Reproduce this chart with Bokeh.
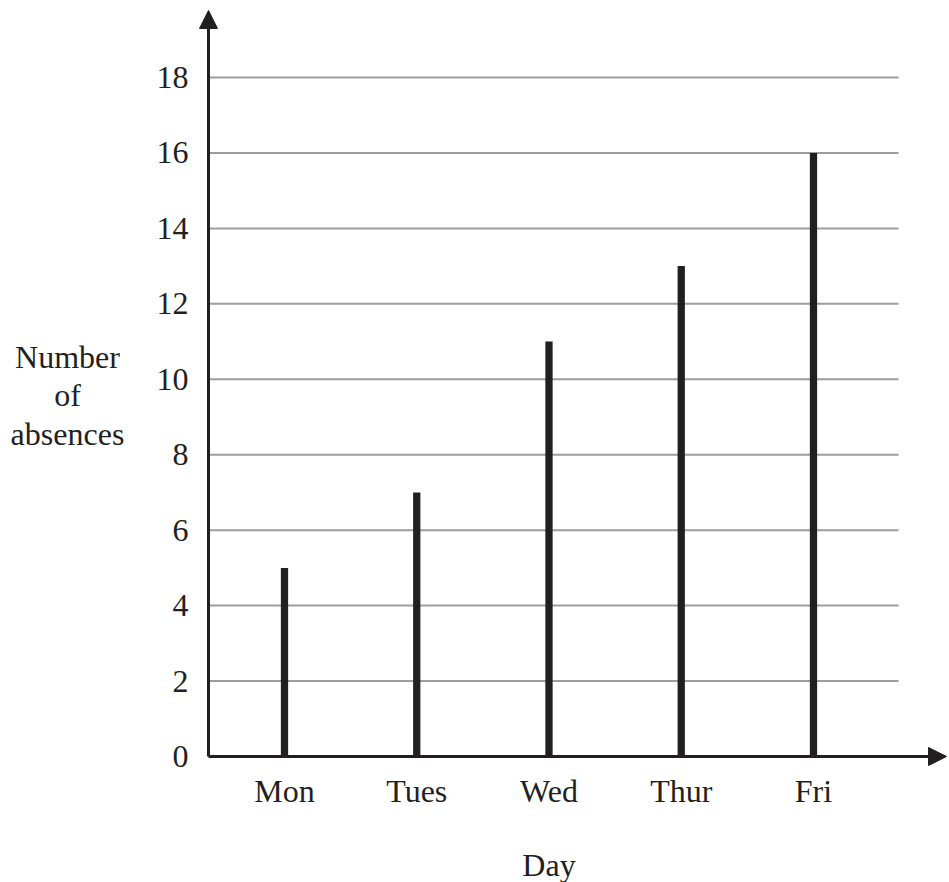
from bokeh.plotting import figure
from bokeh.models import Arrow, NormalHead, FixedTicker, Range1d, Label
from bokeh.embed import file_html
from bokeh.resources import INLINE

# ---- data ----
days = ["Mon", "Tues", "Wed", "Thur", "Fri"]
absences = [5, 7, 11, 13, 16]
y_ticks = [0, 2, 4, 6, 8, 10, 12, 14, 16, 18]
x_title = "Day"
y_title = "Number\nof\nabsences"

# ---- layout constants ----
INK = "#231f20"
FONT = "Liberation Serif"
FS = "32px"
xs = list(range(1, len(days) + 1))

X0, X1 = -1.1474, 6.0284     # frame x range (frame fills the canvas)
Y0, Y1 = -3.340, 20.041      # frame y range
AXIS_X = 0.4253              # where the vertical axis sits
GRID_END = 5.643
X_TIP = 6.006
Y_TIP = 19.777

p = figure(width=949, height=882, output_backend="svg", toolbar_location=None,
           x_range=Range1d(X0, X1), y_range=Range1d(Y0, Y1),
           min_border_left=0, min_border_right=0, min_border_top=0,
           min_border_bottom=0)
p.outline_line_color = None
p.grid.visible = False
p.background_fill_color = "white"

# gridlines (horizontal) for non-zero ticks
grid_y = [t for t in y_ticks if t > 0]
p.segment(x0=[AXIS_X] * len(grid_y), x1=[GRID_END] * len(grid_y),
          y0=grid_y, y1=grid_y, line_color="#9d9d9d", line_width=2)

# bars
p.vbar(x=xs, top=absences, bottom=0, width=0.055, fill_color=INK, line_color=None)

# axes arrows
p.add_layout(Arrow(end=NormalHead(size=18, fill_color=INK, line_color=INK),
                   x_start=AXIS_X, y_start=0, x_end=AXIS_X, y_end=Y_TIP,
                   line_width=3, line_color=INK))
p.add_layout(Arrow(end=NormalHead(size=18, fill_color=INK, line_color=INK),
                   x_start=AXIS_X, y_start=0, x_end=X_TIP, y_end=0,
                   line_width=3, line_color=INK))

# axes (labels only), fixed inside the frame
for ax in (p.xaxis[0], p.yaxis[0]):
    ax.axis_line_color = None
    ax.major_tick_line_color = None
    ax.minor_tick_line_color = None
    ax.major_tick_in = 0
    ax.major_tick_out = 0
    ax.major_label_text_font = FONT
    ax.major_label_text_font_size = FS
    ax.major_label_text_color = INK

p.xaxis.fixed_location = 0
p.xaxis.ticker = FixedTicker(ticks=xs)
p.xaxis.major_label_overrides = {x: d for x, d in zip(xs, days)}
p.xaxis.major_label_standoff = 16

p.yaxis.fixed_location = AXIS_X
p.yaxis.ticker = FixedTicker(ticks=y_ticks)
p.yaxis.major_label_standoff = 20

# axis titles
p.add_layout(Label(x=3, y=-2.863, text=x_title, text_font=FONT, text_font_size=FS,
                   text_color=INK, text_align="center", text_baseline="alphabetic"))
p.add_layout(Label(x=-0.641, y=9.57, text=y_title, text_font=FONT, text_font_size=FS,
                   text_color=INK, text_align="center", text_baseline="middle",
                   text_line_height=1.07))

open("out.html", "w").write(file_html(p, INLINE))
